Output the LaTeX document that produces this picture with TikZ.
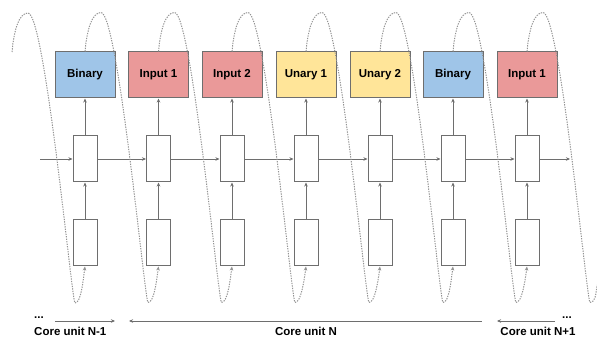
\documentclass[tikz,border=0pt]{standalone}
\usepackage{fontspec}
\setmainfont{Liberation Sans}
\usetikzlibrary{arrows.meta}
\definecolor{binblue}{HTML}{9FC5E8}
\definecolor{inred}{HTML}{EA9999}
\definecolor{unyellow}{HTML}{FFE599}
\definecolor{edgegray}{HTML}{6E6E6E}
\tikzset{
  opbox/.style={draw=edgegray, line width=1pt, minimum width=60pt, minimum height=46pt, inner sep=0pt, font=\bfseries\fontsize{11.5}{13}\selectfont},
  cell/.style={draw=edgegray, line width=1pt, fill=white, minimum width=24pt, minimum height=46pt, inner sep=0pt},
  flow/.style={draw=edgegray, line width=0.8pt, -{Stealth[length=4pt,width=3.5pt]}},
  wave/.style={draw=gray!85, line width=1pt, dash pattern=on 1.3pt off 1.2pt, -{Stealth[length=4pt,width=3.5pt]}},
  unitlabel/.style={font=\bfseries\fontsize{11.5}{13}\selectfont, inner sep=0pt}
}
\begin{document}
\begin{tikzpicture}[x=1pt,y=1pt]
  \useasboundingbox[fill=white] (0,0) rectangle (597,337);
  % operation boxes
  \node[opbox, fill=binblue] at(85,262)(op1){Binary};
  \node[opbox, fill=inred] at(158.5,262)(op2){Input 1};
  \node[opbox, fill=inred] at(232,262)(op3){Input 2};
  \node[opbox, fill=unyellow] at(306,262)(op4){Unary 1};
  \node[opbox, fill=unyellow] at(380,262)(op5){Unary 2};
  \node[opbox, fill=binblue] at(453,262)(op6){Binary};
  \node[opbox, fill=inred] at(527,262)(op7){Input 1};
  % hidden cells
  \node[cell] at(85,178)(h1){};
  \node[cell] at(158.5,178)(h2){};
  \node[cell] at(232,178)(h3){};
  \node[cell] at(306,178)(h4){};
  \node[cell] at(380,178)(h5){};
  \node[cell] at(453,178)(h6){};
  \node[cell] at(527,178)(h7){};
  % input cells
  \node[cell] at(85,94)(x1){};
  \node[cell] at(158.5,94)(x2){};
  \node[cell] at(232,94)(x3){};
  \node[cell] at(306,94)(x4){};
  \node[cell] at(380,94)(x5){};
  \node[cell] at(453,94)(x6){};
  \node[cell] at(527,94)(x7){};
  % loose ends
  \coordinate (in) at (40,178);
  \coordinate (out) at (570,178);
  \coordinate (start) at (12,285);
  \coordinate (stop) at (597,52);
  % recurrent line
  \draw[flow] (in) -- (h1.west);
  \draw[flow] (h1.east) -- (h2.west);
  \draw[flow] (h2.east) -- (h3.west);
  \draw[flow] (h3.east) -- (h4.west);
  \draw[flow] (h4.east) -- (h5.west);
  \draw[flow] (h5.east) -- (h6.west);
  \draw[flow] (h6.east) -- (h7.west);
  \draw[flow] (h7.east) -- (out);
  % upward arrows
  \draw[flow] (x1.north) -- (h1.south);
  \draw[flow] (x2.north) -- (h2.south);
  \draw[flow] (x3.north) -- (h3.south);
  \draw[flow] (x4.north) -- (h4.south);
  \draw[flow] (x5.north) -- (h5.south);
  \draw[flow] (x6.north) -- (h6.south);
  \draw[flow] (x7.north) -- (h7.south);
  \draw[flow] (h1.north) -- (op1.south);
  \draw[flow] (h2.north) -- (op2.south);
  \draw[flow] (h3.north) -- (op3.south);
  \draw[flow] (h4.north) -- (op4.south);
  \draw[flow] (h5.north) -- (op5.south);
  \draw[flow] (h6.north) -- (op6.south);
  \draw[flow] (h7.north) -- (op7.south);
  % feedback from each op to the next input
  \draw[wave] (start) .. controls +(2,22) and +(-9,0) .. ++(16,39) .. controls +(17,0) and +(-3,0) .. ++(47,-290) .. controls +(6,0) and +(-2,-15) .. (x1.south);
  \draw[wave] (op1.north) .. controls +(2,22) and +(-9,0) .. ++(16,39) .. controls +(17,0) and +(-3,0) .. ++(47,-290) .. controls +(6,0) and +(-2,-15) .. (x2.south);
  \draw[wave] (op2.north) .. controls +(2,22) and +(-9,0) .. ++(16,39) .. controls +(17,0) and +(-3,0) .. ++(47,-290) .. controls +(6,0) and +(-2,-15) .. (x3.south);
  \draw[wave] (op3.north) .. controls +(2,22) and +(-9,0) .. ++(16,39) .. controls +(17,0) and +(-3,0) .. ++(47,-290) .. controls +(6,0) and +(-2,-15) .. (x4.south);
  \draw[wave] (op4.north) .. controls +(2,22) and +(-9,0) .. ++(16,39) .. controls +(17,0) and +(-3,0) .. ++(47,-290) .. controls +(6,0) and +(-2,-15) .. (x5.south);
  \draw[wave] (op5.north) .. controls +(2,22) and +(-9,0) .. ++(16,39) .. controls +(17,0) and +(-3,0) .. ++(47,-290) .. controls +(6,0) and +(-2,-15) .. (x6.south);
  \draw[wave] (op6.north) .. controls +(2,22) and +(-9,0) .. ++(16,39) .. controls +(17,0) and +(-3,0) .. ++(47,-290) .. controls +(6,0) and +(-2,-15) .. (x7.south);
  \draw[wave, -] (op7.north) .. controls +(2,22) and +(-9,0) .. ++(16,39) .. controls +(17,0) and +(-3,0) .. ++(47,-290) .. controls +(5,0) and +(-1,-10) .. (stop);
  % core units
  \node[unitlabel] at(39,19)(dotsL){...};
  \node[unitlabel] at(567,19)(dotsR){...};
  \node[unitlabel, anchor=west] at(34,6)(unitA){Core unit N-1};
  \node[unitlabel] at(306,6)(unitB){Core unit N};
  \node[unitlabel] at(538,6)(unitC){Core unit N+1};
  \coordinate (a1) at (55,16);
  \coordinate (a2) at (115,16);
  \coordinate (b1) at (129,16);
  \coordinate (b2) at (482,16);
  \coordinate (c1) at (555,16);
  \coordinate (c2) at (497,16);
  \draw[flow] (a1) -- (a2);
  \draw[flow, {Stealth[length=4pt,width=3.5pt]}-] (b1) -- (b2);
  \draw[flow] (c1) -- (c2);
\end{tikzpicture}
\end{document}
